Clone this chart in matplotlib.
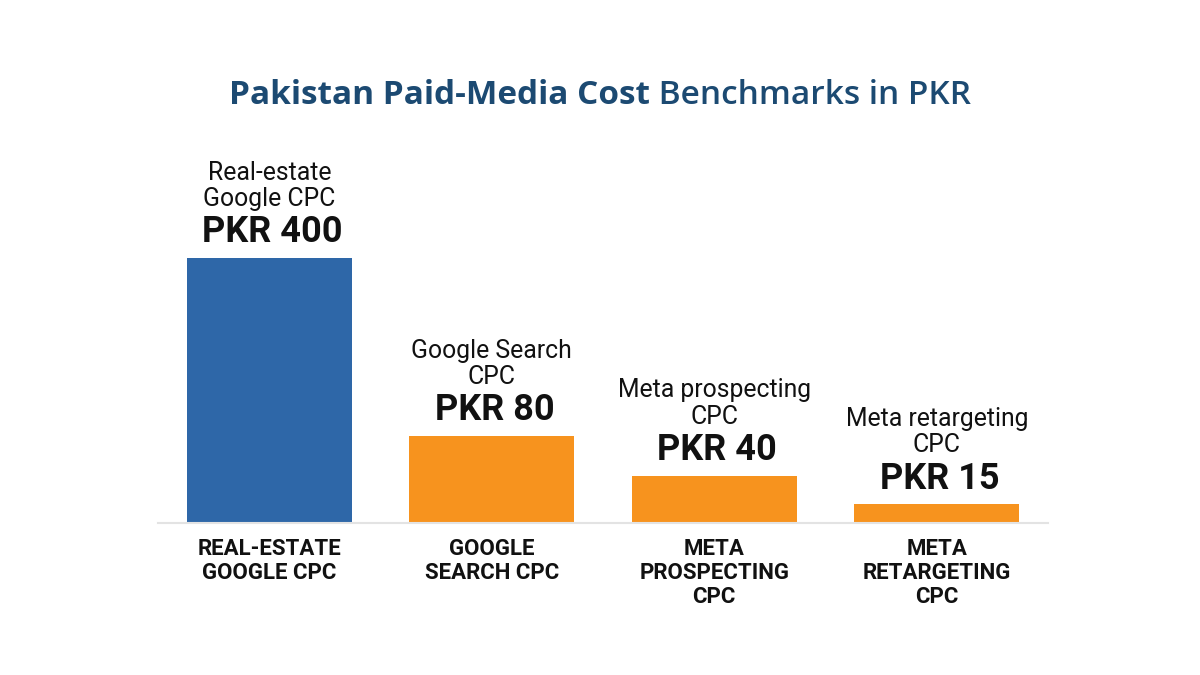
import numpy as np
import matplotlib.pyplot as plt

# data
categories = ["Real-estate\nGoogle CPC", "Google Search\nCPC", "Meta prospecting\nCPC", "Meta retargeting\nCPC"]
tick_labels = ["REAL-ESTATE\nGOOGLE CPC", "GOOGLE\nSEARCH CPC", "META\nPROSPECTING\nCPC", "META\nRETARGETING\nCPC"]
values = [400, 80, 40, 15]
colors = ["#2e67a8", "#f7931e", "#f7931e", "#f7931e"]

K = 420.0  # saturating scale used by the original chart


def fwd(v):
    v = np.asarray(v, dtype=float)
    return v / (v + K)


def inv(y):
    y = np.asarray(y, dtype=float)
    return y * K / (1 - y)


fig = plt.figure(figsize=(12, 6.75), dpi=100)
ax = fig.add_axes([158 / 1200, 152 / 675, 890 / 1200, 326 / 675])
ax.set_yscale("function", functions=(fwd, inv))

x = np.arange(len(values))
ax.bar(x, values, width=0.74, color=colors, zorder=2)
ax.set_xlim(-0.5, 3.5)
ax.set_ylim(0, inv(0.6))

for xi, v, name in zip(x, values, categories):
    ax.annotate("PKR %d" % v, (xi, v), xytext=(2, 18.5), textcoords="offset points",
                ha="center", va="center", fontsize=26, fontweight="bold",
                family="Roboto", color="#111111", annotation_clip=False)
    ax.annotate(name, (xi, v), xytext=(0, 52), textcoords="offset points",
                ha="center", va="center", fontsize=17.8, family="Roboto",
                color="#111111", linespacing=1.13, annotation_clip=False)

ax.set_xticks(x)
ax.set_xticklabels(tick_labels, fontsize=16, fontweight="bold", family="Roboto",
                   color="#111111", linespacing=1.1)
ax.tick_params(axis="x", length=0, pad=11)
ax.set_yticks([])
ax.yaxis.set_minor_locator(plt.NullLocator())
for s in ["top", "left", "right"]:
    ax.spines[s].set_visible(False)
ax.spines["bottom"].set_color("#e3e3e3")
ax.spines["bottom"].set_linewidth(1.5)

# title: two weights
t1 = fig.text(0, 580 / 675, "Pakistan Paid-Media Cost", fontsize=24, fontweight="bold",
              family="Open Sans", color="#1c4a72", va="center", ha="left")
t2 = fig.text(0, 580 / 675, " Benchmarks in PKR", fontsize=24, fontweight="semibold",
              family="Open Sans", color="#1c4a72", va="center", ha="left")
fig.canvas.draw()
r = fig.canvas.get_renderer()
w1 = t1.get_window_extent(r).width
w2 = t2.get_window_extent(r).width
start = (600 - (w1 + w2) / 2) / 1200
t1.set_x(start)
t2.set_x(start + w1 / 1200)

fig.savefig("out.png", dpi=100, facecolor="white")
